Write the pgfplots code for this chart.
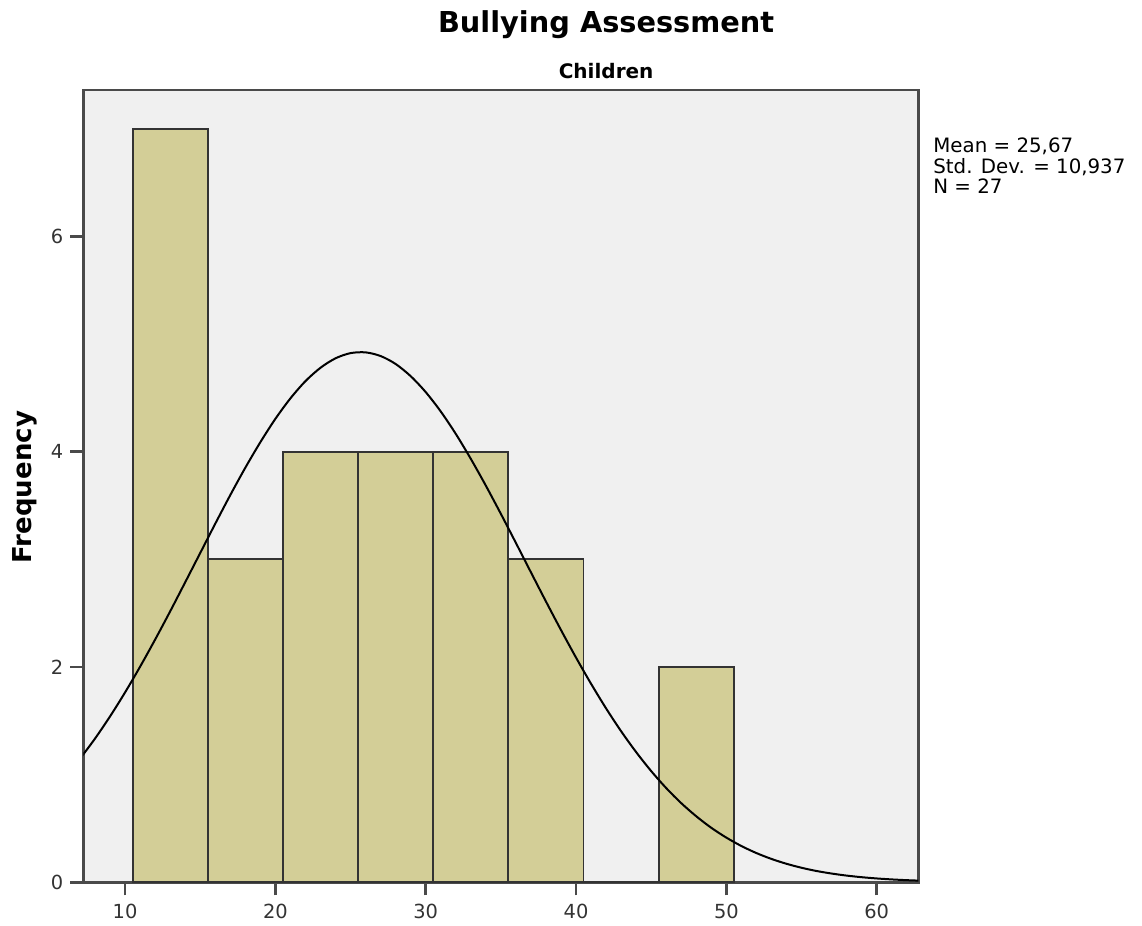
\documentclass[border=0pt]{standalone}
\usepackage{pgfplots}
\pgfplotsset{compat=1.18}
\usepackage{fontspec}
\setmainfont{DejaVu Sans}
\definecolor{bgc}{HTML}{F0F0F0}
\definecolor{barc}{HTML}{D3CE97}
\definecolor{axc}{HTML}{4A4A4A}
\begin{document}
\begin{tikzpicture}
\path[use as bounding box] (-41.65pt,-21.85pt) rectangle (529.35pt,441.15pt);
\begin{axis}[
  scale only axis,
  width=417.5pt, height=396.2pt,
  xmin=7.22, xmax=62.77, ymin=0, ymax=7.36,
  axis background/.style={fill=bgc},
  axis line style={axc, line width=1.3pt},
  tick style={axc, line width=1.3pt},
  tick align=outside,
  tick pos=left,
  major tick length=6.5pt,
  xtick={10,20,30,40,50,60},
  ytick={0,2,4,6},
  /pgf/number format/assume math mode=true,
  tick label style={font=\fontsize{9.7}{11}\selectfont, text=black!80},
  xticklabel style={yshift=-1pt},
]
\addplot[ybar interval, fill=barc, draw=black!80, line width=0.9pt]
  coordinates {(10.5,7) (15.5,3) (20.5,4) (25.5,4) (30.5,4) (35.5,3) (40.5,0) (45.5,2) (50.5,2)};
\addplot[black, line width=1pt, smooth, no markers] coordinates {
(7,1.147) (8,1.335) (9,1.541) (10,1.764) (11,2.003) (12,2.255) (13,2.517) (14,2.787)
(15,3.059) (16,3.331) (17,3.597) (18,3.851) (19,4.088) (20,4.305)
(21,4.495) (22,4.655) (23,4.779) (24,4.867) (25,4.915) (26,4.922) (27,4.888) (28,4.814)
(29,4.701) (30,4.553) (31,4.373) (32,4.165)
(33,3.933) (34,3.684) (35,3.422) (36,3.152) (37,2.879) (38,2.608) (39,2.343) (40,2.087)
(41,1.844) (42,1.615) (43,1.403) (44,1.209) (45,1.033) (46,0.875)
(47,0.735) (48,0.613) (49,0.506) (50,0.415) (51,0.337) (52,0.2715) (53,0.217) (54,0.172)
(55,0.135) (56,0.105) (57,0.0814) (58,0.0623) (59,0.0474) (60,0.0357)
(61,0.0267) (62,0.0198) (63,0.0145)};
\end{axis}
\node[anchor=base, font=\fontsize{14.4}{16}\selectfont\bfseries] at (261.4pt,424.65pt) {Bullying Assessment};
\node[anchor=base, font=\fontsize{10}{12}\selectfont\bfseries] at (261.4pt,401.65pt) {Children};
\node[rotate=90, font=\fontsize{13}{15}\selectfont\bfseries] at (-29.2pt,197.6pt) {Frequency};
\node[anchor=base west, inner sep=0pt, font=\fontsize{9.9}{11}\selectfont] at (424.85pt,364.65pt) {Mean = 25,67};
\node[anchor=base west, inner sep=0pt, font=\fontsize{9.9}{11}\selectfont] at (424.85pt,354.4pt) {Std. Dev. = 10,937};
\node[anchor=base west, inner sep=0pt, font=\fontsize{9.9}{11}\selectfont] at (424.85pt,344.15pt) {N = 27};
\end{tikzpicture}
\end{document}
